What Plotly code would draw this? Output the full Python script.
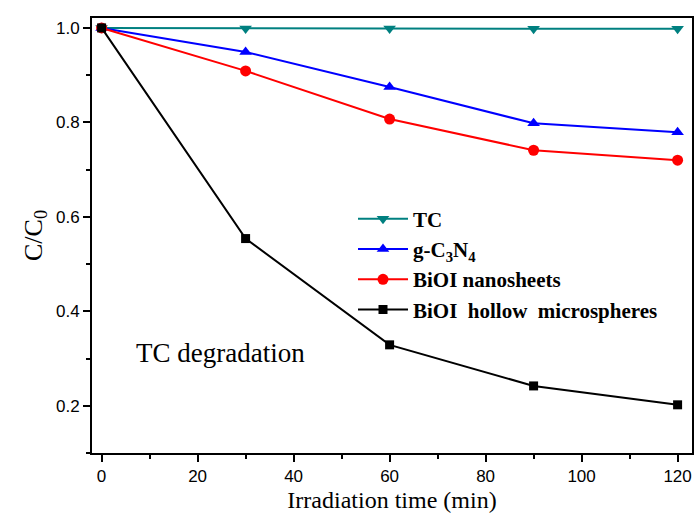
import plotly.graph_objects as go

time_min = [0, 30, 60, 90, 120]
tc = [1.0, 0.999, 0.999, 0.998, 0.998]
gc3n4 = [1.0, 0.949, 0.875, 0.798, 0.779]
bioi_nano = [1.0, 0.909, 0.807, 0.741, 0.720]
bioi_hollow = [1.0, 0.554, 0.329, 0.242, 0.202]

series = [
    ("TC", tc, "#008080", "triangle-down"),
    ("g-C<sub>3</sub>N<sub>4</sub>", gc3n4, "#0000ff", "triangle-up"),
    ("BiOI nanosheets", bioi_nano, "#ff0000", "circle"),
    ("BiOI\u00a0\u00a0hollow\u00a0\u00a0microspheres", bioi_hollow, "#000000", "square"),
]

fig = go.Figure()
for name, ys, color, sym in series:
    fig.add_trace(go.Scatter(
        x=time_min, y=ys, name=name, mode="lines+markers",
        line=dict(color=color, width=2),
        marker=dict(symbol=sym, size=11 if sym != "square" else 9, color=color),
    ))

axis_common = dict(
    showline=True, linecolor="black", linewidth=2, mirror=True,
    ticks="outside", ticklen=7, tickwidth=2, tickcolor="black",
    showgrid=False, zeroline=False,
    tickfont=dict(family="Liberation Sans Narrow, Liberation Sans, Arial", size=17, color="black"),
)

fig.update_layout(
    width=697, height=525,
    margin=dict(l=92, r=3, t=18, b=72),
    plot_bgcolor="white", paper_bgcolor="white",
    xaxis=dict(range=[-2, 123], tickvals=[0, 20, 40, 60, 80, 100, 120],
               minor=dict(dtick=10, tick0=0, ticks="outside", ticklen=4, tickwidth=2, tickcolor="black"),
               title=dict(text="Irradiation time (min)", font=dict(family="Liberation Serif, Times New Roman", size=24, color="black"), standoff=6),
               **axis_common),
    yaxis=dict(range=[0.1, 1.021], tickvals=[0.2, 0.4, 0.6, 0.8, 1.0], tickformat=".1f",
               minor=dict(dtick=0.1, tick0=0, ticks="outside", ticklen=4, tickwidth=2, tickcolor="black"),
               title=dict(text="C/C<sub>0</sub>", font=dict(family="Liberation Serif, Times New Roman", size=26, color="black"), standoff=6),
               **axis_common),
    legend=dict(x=0.435, y=0.585, xanchor="left", yanchor="top",
                font=dict(family="Liberation Serif, Times New Roman", size=21, color="black", weight="bold"),
                bgcolor="rgba(0,0,0,0)", tracegroupgap=0, itemwidth=50),
    showlegend=True,
    annotations=[dict(text="TC degradation", x=0.07, y=0.23, xref="paper", yref="paper",
                      xanchor="left", yanchor="middle", showarrow=False,
                      font=dict(family="Liberation Serif, Times New Roman", size=27, color="black"))],
)

fig.write_html("out.html")
